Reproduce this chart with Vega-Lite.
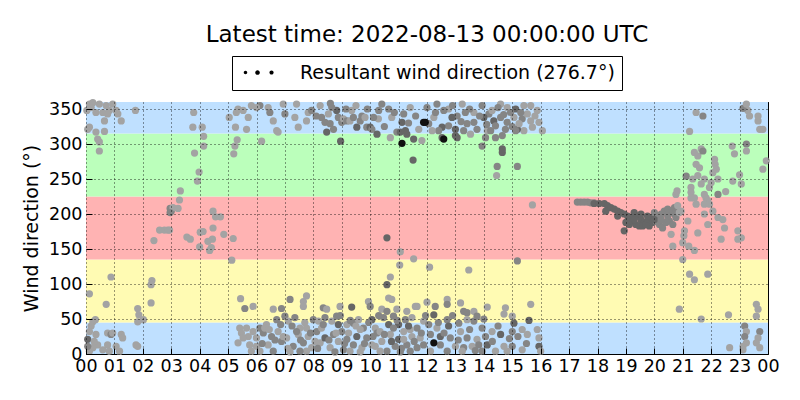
{
  "$schema": "https://vega.github.io/schema/vega-lite/v6.json",
  "description": "Wind direction over the day",
  "autosize": "none",
  "width": 682,
  "height": 252,
  "padding": {"left": 86, "top": 102, "right": 32, "bottom": 46},
  "background": "white",
  "title": {
    "text": "Latest time: 2022-08-13 00:00:00 UTC",
    "font": "DejaVu Sans",
    "fontSize": 23,
    "fontWeight": "normal",
    "color": "black",
    "anchor": "middle",
    "baseline": "alphabetic",
    "offset": -9
  },
  "config": {
    "font": "DejaVu Sans",
    "view": {"stroke": "black", "strokeWidth": 1},
    "axis": {"labelColor": "black", "tickColor": "black", "labelFont": "DejaVu Sans", "titleFont": "DejaVu Sans", "titleColor": "black"}
  },
  "resolve": {"scale": {"color": "independent"}},
  "layer": [
    {
      "data": {
        "values": [
          {"zone": "N", "lo": 0, "hi": 45},
          {"zone": "E", "lo": 45, "hi": 135},
          {"zone": "S", "lo": 135, "hi": 225},
          {"zone": "W", "lo": 225, "hi": 315},
          {"zone": "N2", "lo": 315, "hi": 360}
        ]
      },
      "mark": {"type": "rect"},
      "encoding": {
        "x": {"datum": 0, "type": "quantitative", "scale": {"domain": [0, 24], "nice": false, "zero": false},
          "axis": {"orient": "top", "values": [0,1,2,3,4,5,6,7,8,9,10,11,12,13,14,15,16,17,18,19,20,21,22,23,24], "labels": false, "grid": false, "domain": false, "tickSize": -6, "title": null}},
        "x2": {"datum": 24},
        "y": {"field": "lo", "type": "quantitative", "scale": {"domain": [0, 360], "nice": false},
          "axis": {"orient": "right", "values": [0,50,100,150,200,250,300,350], "labels": false, "grid": false, "domain": false, "tickSize": -6, "title": null}},
        "y2": {"field": "hi"},
        "color": {"field": "zone", "type": "nominal", "legend": null,
          "scale": {"domain": ["N", "E", "S", "W", "N2"], "range": ["#bfe0ff", "#fffbb3", "#ffb3b3", "#bbffbb", "#bfe0ff"]}}
      }
    },
    {
      "data": {
        "values": [
          {"t":0.12,"d":357,"w":1},{"t":0.24,"d":359,"w":1},{"t":0.47,"d":357,"w":1},{"t":0.71,"d":355,"w":1},{"t":0.94,"d":357,"w":1},
          {"t":0.35,"d":345,"w":1},{"t":0.59,"d":345,"w":1},{"t":0.82,"d":348,"w":1},{"t":1.06,"d":348,"w":1},{"t":1.12,"d":343,"w":1},
          {"t":0.76,"d":343,"w":1},{"t":0.65,"d":333,"w":1},{"t":1.24,"d":333,"w":1},{"t":1.74,"d":348,"w":1},{"t":0.12,"d":324,"w":1},
          {"t":0.06,"d":321,"w":1},{"t":0.35,"d":317,"w":1},{"t":0.65,"d":318,"w":1},{"t":0.41,"d":307,"w":1},{"t":0.47,"d":303,"w":1},
          {"t":0.47,"d":290,"w":1},{"t":0.03,"d":348,"w":1},{"t":0.18,"d":352,"w":1},
          {"t":3.79,"d":345,"w":1},{"t":3.76,"d":324,"w":1},{"t":4.09,"d":324,"w":1},{"t":4.14,"d":311,"w":1},{"t":4.14,"d":297,"w":1},
          {"t":3.82,"d":287,"w":1},{"t":3.98,"d":260,"w":1},{"t":3.92,"d":247,"w":1},{"t":3.32,"d":233,"w":1},{"t":3.29,"d":220,"w":1},
          {"t":2.96,"d":208,"w":2},{"t":3.0,"d":204,"w":2},{"t":3.06,"d":209,"w":1},{"t":3.24,"d":208,"w":1},{"t":2.96,"d":202,"w":2},
          {"t":2.59,"d":177,"w":1},{"t":2.76,"d":177,"w":1},{"t":2.88,"d":177,"w":1},{"t":2.94,"d":177,"w":1},{"t":2.39,"d":162,"w":1},
          {"t":4.47,"d":204,"w":1},{"t":4.56,"d":196,"w":1},{"t":4.73,"d":196,"w":1},{"t":4.47,"d":180,"w":1},{"t":4.02,"d":174,"w":1},
          {"t":4.12,"d":175,"w":1},{"t":3.55,"d":167,"w":1},{"t":3.67,"d":164,"w":1},{"t":4.45,"d":164,"w":1},{"t":4.29,"d":161,"w":1},
          {"t":4.35,"d":148,"w":1},{"t":4.41,"d":152,"w":1},{"t":4.0,"d":153,"w":1},{"t":4.85,"d":171,"w":1},{"t":5.18,"d":165,"w":1},
          {"t":5.13,"d":134,"w":1},
          {"t":0.88,"d":110,"w":1},{"t":0.12,"d":86,"w":1},{"t":0.71,"d":71,"w":1},{"t":2.32,"d":105,"w":1},{"t":2.29,"d":99,"w":1},
          {"t":2.29,"d":73,"w":1},{"t":1.82,"d":65,"w":1},{"t":1.86,"d":56,"w":1},{"t":2.02,"d":49,"w":1},{"t":1.82,"d":46,"w":1},
          {"t":0.33,"d":49,"w":1},{"t":0.24,"d":46,"w":1},{"t":0.18,"d":40,"w":1},
          {"t":5.44,"d":79,"w":1},{"t":5.59,"d":65,"w":2},{"t":5.88,"d":68,"w":1},
          {"t":0.12,"d":32,"w":1},{"t":0.06,"d":21,"w":3},{"t":0.35,"d":28,"w":1},{"t":0.41,"d":13,"w":1},{"t":0.24,"d":9,"w":1},
          {"t":0.76,"d":30,"w":1},{"t":0.88,"d":28,"w":2},{"t":1.24,"d":28,"w":1},{"t":1.29,"d":23,"w":1},{"t":1.06,"d":11,"w":1},
          {"t":0.76,"d":13,"w":1},{"t":0.59,"d":6,"w":1},{"t":1.18,"d":4,"w":1},{"t":0.82,"d":4,"w":1},{"t":1.76,"d":13,"w":1},
          {"t":1.82,"d":11,"w":1},{"t":0.12,"d":4,"w":1},{"t":0.06,"d":11,"w":2},{"t":0.94,"d":30,"w":1},{"t":0.29,"d":18,"w":1},
          {"t":5.41,"d":37,"w":1},{"t":5.65,"d":37,"w":1},{"t":5.47,"d":30,"w":1},{"t":5.71,"d":25,"w":1},{"t":5.88,"d":32,"w":1},
          {"t":5.76,"d":13,"w":1},{"t":5.35,"d":16,"w":1},{"t":5.82,"d":4,"w":1},{"t":5.53,"d":23,"w":1},
          {"t":5.04,"d":338,"w":1},{"t":5.29,"d":345,"w":1},{"t":5.35,"d":350,"w":1},{"t":5.71,"d":338,"w":1},{"t":5.53,"d":348,"w":1},
          {"t":5.82,"d":355,"w":1},{"t":5.26,"d":324,"w":1},{"t":5.65,"d":321,"w":1},{"t":5.32,"d":306,"w":1},{"t":5.24,"d":297,"w":1},
          {"t":5.2,"d":286,"w":1},
          {"t":6.12,"d":355,"w":2},{"t":6.41,"d":352,"w":1},{"t":6.47,"d":345,"w":2},{"t":6.59,"d":333,"w":1},{"t":6.71,"d":319,"w":1},
          {"t":6.76,"d":317,"w":1},{"t":6.94,"d":357,"w":1},{"t":7.0,"d":343,"w":2},{"t":7.35,"d":338,"w":1},{"t":7.47,"d":324,"w":1},
          {"t":7.76,"d":333,"w":1},{"t":7.82,"d":345,"w":1},{"t":7.94,"d":348,"w":2},{"t":8.24,"d":355,"w":1},{"t":8.29,"d":338,"w":2},
          {"t":8.41,"d":331,"w":2},{"t":8.53,"d":343,"w":1},{"t":8.59,"d":329,"w":2},{"t":8.47,"d":317,"w":3},{"t":8.71,"d":321,"w":2},
          {"t":8.82,"d":348,"w":3},{"t":8.88,"d":338,"w":2},{"t":9.0,"d":331,"w":2},{"t":9.06,"d":336,"w":1},{"t":9.18,"d":333,"w":2},
          {"t":9.29,"d":333,"w":1},{"t":9.41,"d":338,"w":2},{"t":9.53,"d":324,"w":3},{"t":9.65,"d":333,"w":2},{"t":9.71,"d":340,"w":2},
          {"t":9.82,"d":338,"w":1},{"t":9.88,"d":324,"w":2},{"t":10.0,"d":324,"w":3},{"t":10.06,"d":321,"w":2},{"t":10.24,"d":314,"w":3},
          {"t":10.29,"d":336,"w":1},{"t":10.41,"d":357,"w":2},{"t":10.65,"d":350,"w":2},{"t":10.71,"d":309,"w":1},{"t":10.94,"d":317,"w":2},
          {"t":11.06,"d":317,"w":3},{"t":11.12,"d":331,"w":3},{"t":11.18,"d":343,"w":2},{"t":11.24,"d":319,"w":3},{"t":11.29,"d":314,"w":3},
          {"t":11.41,"d":352,"w":1},{"t":11.53,"d":307,"w":3},{"t":11.71,"d":321,"w":1},{"t":11.82,"d":305,"w":1},{"t":6.18,"d":304,"w":1},
          {"t":8.96,"d":304,"w":3},{"t":11.12,"d":301,"w":4},{"t":11.51,"d":277,"w":3},{"t":11.88,"d":331,"w":4},
          {"t":6.0,"d":352,"w":1},{"t":7.41,"d":357,"w":1},{"t":8.65,"d":352,"w":2},{"t":9.35,"d":348,"w":1},{"t":10.12,"d":338,"w":2},
          {"t":10.76,"d":338,"w":1},
          {"t":8.1,"d":340,"w":2},{"t":8.6,"d":358,"w":2},{"t":9.15,"d":350,"w":2},{"t":9.5,"d":355,"w":1},{"t":9.9,"d":350,"w":2},
          {"t":10.3,"d":348,"w":2},{"t":10.5,"d":325,"w":2},{"t":10.85,"d":345,"w":2},{"t":11.35,"d":330,"w":2},{"t":11.6,"d":340,"w":2},
          {"t":10.59,"d":166,"w":3},{"t":11.06,"d":146,"w":1},{"t":11.53,"d":136,"w":1},{"t":11.04,"d":127,"w":1},{"t":10.71,"d":110,"w":1},
          {"t":10.59,"d":99,"w":3},{"t":10.65,"d":80,"w":1},{"t":10.76,"d":78,"w":1},{"t":7.76,"d":83,"w":1},{"t":7.65,"d":75,"w":1},
          {"t":11.59,"d":68,"w":1},
          {"t":6.59,"d":64,"w":1},{"t":6.88,"d":65,"w":2},{"t":7.18,"d":78,"w":2},{"t":7.65,"d":68,"w":1},{"t":8.35,"d":66,"w":2},
          {"t":8.47,"d":64,"w":1},{"t":8.94,"d":68,"w":1},{"t":9.35,"d":67,"w":3},{"t":9.94,"d":75,"w":1},{"t":10.0,"d":68,"w":2},
          {"t":10.41,"d":64,"w":1},{"t":10.59,"d":61,"w":2},{"t":10.94,"d":64,"w":1},{"t":11.29,"d":61,"w":1},{"t":11.65,"d":68,"w":1},
          {"t":6.12,"d":37,"w":2},{"t":6.35,"d":42,"w":1},{"t":6.71,"d":49,"w":2},{"t":7.0,"d":54,"w":2},{"t":7.12,"d":47,"w":1},
          {"t":7.35,"d":52,"w":2},{"t":7.53,"d":37,"w":1},{"t":8.0,"d":49,"w":2},{"t":8.18,"d":47,"w":1},{"t":8.41,"d":52,"w":2},
          {"t":8.65,"d":47,"w":1},{"t":8.82,"d":54,"w":2},{"t":8.88,"d":42,"w":3},{"t":9.18,"d":42,"w":1},{"t":9.41,"d":44,"w":2},
          {"t":9.59,"d":49,"w":1},{"t":9.76,"d":37,"w":2},{"t":10.06,"d":49,"w":3},{"t":10.18,"d":37,"w":1},{"t":10.47,"d":52,"w":2},
          {"t":10.65,"d":42,"w":3},{"t":10.82,"d":54,"w":2},{"t":11.0,"d":42,"w":3},{"t":11.24,"d":49,"w":2},{"t":11.47,"d":52,"w":1},
          {"t":11.65,"d":37,"w":2},{"t":11.88,"d":47,"w":1},
          {"t":6.0,"d":23,"w":1},{"t":6.24,"d":30,"w":2},{"t":6.41,"d":13,"w":1},{"t":6.53,"d":25,"w":2},{"t":6.76,"d":32,"w":1},
          {"t":6.88,"d":18,"w":2},{"t":7.06,"d":23,"w":1},{"t":7.29,"d":11,"w":2},{"t":7.47,"d":28,"w":1},{"t":7.65,"d":16,"w":2},
          {"t":7.82,"d":25,"w":1},{"t":7.94,"d":9,"w":1},{"t":8.12,"d":32,"w":2},{"t":8.24,"d":16,"w":1},{"t":8.41,"d":23,"w":3},
          {"t":8.59,"d":9,"w":1},{"t":8.71,"d":28,"w":2},{"t":8.88,"d":18,"w":1},{"t":9.06,"d":6,"w":2},{"t":9.24,"d":30,"w":1},
          {"t":9.41,"d":13,"w":2},{"t":9.53,"d":25,"w":3},{"t":9.71,"d":9,"w":1},{"t":9.88,"d":23,"w":2},{"t":10.06,"d":13,"w":1},
          {"t":10.24,"d":30,"w":2},{"t":10.41,"d":18,"w":1},{"t":10.59,"d":4,"w":2},{"t":10.71,"d":28,"w":1},{"t":10.88,"d":11,"w":2},
          {"t":11.0,"d":21,"w":3},{"t":11.18,"d":32,"w":1},{"t":11.29,"d":13,"w":2},{"t":11.47,"d":25,"w":1},{"t":11.65,"d":9,"w":2},
          {"t":11.76,"d":23,"w":1},{"t":11.88,"d":13,"w":2},{"t":6.12,"d":4,"w":1},{"t":6.59,"d":4,"w":2},{"t":7.18,"d":3,"w":1},
          {"t":7.76,"d":4,"w":1},{"t":8.76,"d":3,"w":2},{"t":9.65,"d":3,"w":1},{"t":11.06,"d":3,"w":2},
          {"t":6.29,"d":37,"w":1},{"t":7.41,"d":32,"w":2},{"t":7.76,"d":37,"w":1},{"t":8.29,"d":37,"w":1},{"t":9.0,"d":32,"w":2},
          {"t":9.65,"d":35,"w":1},{"t":10.35,"d":32,"w":1},{"t":10.82,"d":37,"w":2},{"t":11.41,"d":35,"w":1},{"t":6.94,"d":25,"w":1},
          {"t":8.06,"d":18,"w":1},{"t":9.18,"d":21,"w":2},{"t":10.18,"d":11,"w":1},{"t":11.18,"d":21,"w":1},{"t":6.0,"d":11,"w":1},
          {"t":7.53,"d":4,"w":2},{"t":9.29,"d":4,"w":1},{"t":10.35,"d":4,"w":1},{"t":11.41,"d":4,"w":2},
          {"t":6.2,"d":15,"w":2},{"t":6.45,"d":35,"w":1},{"t":6.65,"d":20,"w":2},{"t":6.85,"d":42,"w":2},{"t":7.1,"d":8,"w":1},
          {"t":7.25,"d":40,"w":2},{"t":7.55,"d":20,"w":2},{"t":7.7,"d":45,"w":1},{"t":7.9,"d":30,"w":2},{"t":8.15,"d":8,"w":2},
          {"t":8.35,"d":42,"w":2},{"t":8.55,"d":20,"w":2},{"t":8.8,"d":30,"w":1},{"t":8.95,"d":55,"w":2},{"t":9.1,"d":15,"w":2},
          {"t":9.3,"d":48,"w":2},{"t":9.5,"d":40,"w":1},{"t":9.8,"d":15,"w":2},{"t":9.95,"d":45,"w":2},{"t":10.1,"d":25,"w":2},
          {"t":10.3,"d":55,"w":2},{"t":10.5,"d":28,"w":2},{"t":10.75,"d":18,"w":3},{"t":10.95,"d":48,"w":2},{"t":11.1,"d":8,"w":2},
          {"t":11.35,"d":40,"w":3},{"t":11.55,"d":18,"w":2},{"t":11.8,"d":30,"w":2},{"t":11.95,"d":55,"w":2},
          {"t":12.0,"d":352,"w":2},{"t":12.35,"d":357,"w":2},{"t":12.76,"d":350,"w":1},{"t":13.06,"d":340,"w":2},{"t":13.24,"d":357,"w":1},
          {"t":13.35,"d":345,"w":2},{"t":13.65,"d":345,"w":1},{"t":13.94,"d":355,"w":2},{"t":14.18,"d":343,"w":2},{"t":14.29,"d":348,"w":1},
          {"t":14.59,"d":357,"w":1},{"t":14.82,"d":352,"w":1},{"t":15.12,"d":350,"w":3},{"t":15.41,"d":355,"w":1},{"t":15.65,"d":355,"w":1},
          {"t":15.88,"d":348,"w":1},{"t":14.59,"d":338,"w":2},{"t":14.35,"d":333,"w":3},{"t":14.82,"d":331,"w":2},{"t":15.06,"d":338,"w":1},
          {"t":15.35,"d":336,"w":2},{"t":15.65,"d":333,"w":1},{"t":15.94,"d":331,"w":1},{"t":16.06,"d":319,"w":1},{"t":15.41,"d":319,"w":1},
          {"t":15.18,"d":321,"w":3},{"t":14.76,"d":321,"w":2},{"t":14.41,"d":326,"w":2},{"t":14.12,"d":319,"w":1},{"t":13.76,"d":321,"w":2},
          {"t":13.53,"d":314,"w":1},{"t":13.29,"d":319,"w":2},{"t":13.0,"d":321,"w":3},{"t":12.76,"d":326,"w":2},{"t":12.53,"d":324,"w":3},
          {"t":12.41,"d":319,"w":2},{"t":12.18,"d":319,"w":1},{"t":12.06,"d":329,"w":2},{"t":11.94,"d":331,"w":4},{"t":12.53,"d":309,"w":3},
          {"t":12.59,"d":307,"w":4},{"t":13.0,"d":312,"w":3},{"t":13.06,"d":309,"w":3},{"t":14.06,"d":309,"w":2},{"t":14.41,"d":309,"w":2},
          {"t":14.65,"d":312,"w":2},{"t":15.12,"d":319,"w":2},{"t":15.71,"d":324,"w":1},{"t":13.94,"d":297,"w":2},{"t":14.65,"d":293,"w":3},
          {"t":14.65,"d":288,"w":3},{"t":14.47,"d":268,"w":2},{"t":14.45,"d":255,"w":1},{"t":15.18,"d":268,"w":2},{"t":15.71,"d":213,"w":1},
          {"t":15.18,"d":133,"w":2},{"t":12.09,"d":124,"w":1},{"t":13.47,"d":120,"w":1},
          {"t":12.59,"d":348,"w":2},{"t":12.88,"d":338,"w":3},{"t":13.65,"d":331,"w":2},{"t":14.0,"d":338,"w":3},{"t":14.94,"d":345,"w":2},
          {"t":15.53,"d":343,"w":1},{"t":14.24,"d":319,"w":2},{"t":12.24,"d":338,"w":1},{"t":13.41,"d":329,"w":2},{"t":15.24,"d":329,"w":1},
          {"t":12.3,"d":345,"w":2},{"t":12.9,"d":355,"w":2},{"t":13.2,"d":332,"w":2},{"t":13.5,"d":350,"w":2},{"t":13.85,"d":340,"w":2},
          {"t":14.1,"d":328,"w":2},{"t":14.5,"d":352,"w":2},{"t":14.7,"d":342,"w":2},{"t":15.0,"d":325,"w":2},{"t":15.3,"d":345,"w":2},
          {"t":15.8,"d":340,"w":1},
          {"t":12.0,"d":74,"w":1},{"t":12.29,"d":68,"w":2},{"t":12.24,"d":56,"w":3},{"t":12.71,"d":78,"w":1},{"t":12.71,"d":71,"w":2},
          {"t":13.18,"d":73,"w":1},{"t":13.29,"d":61,"w":2},{"t":13.41,"d":59,"w":2},{"t":13.65,"d":61,"w":1},{"t":13.76,"d":54,"w":2},
          {"t":14.12,"d":67,"w":1},{"t":14.76,"d":66,"w":1},{"t":14.71,"d":57,"w":1},{"t":15.0,"d":54,"w":1},{"t":15.65,"d":71,"w":1},
          {"t":15.59,"d":48,"w":3},{"t":15.06,"d":44,"w":3},{"t":12.06,"d":42,"w":2},{"t":12.35,"d":37,"w":1},{"t":12.71,"d":49,"w":2},
          {"t":12.76,"d":40,"w":3},{"t":13.12,"d":44,"w":2},{"t":13.41,"d":49,"w":1},{"t":13.65,"d":47,"w":2},{"t":13.94,"d":37,"w":2},
          {"t":14.29,"d":32,"w":1},{"t":14.59,"d":28,"w":3},{"t":15.0,"d":32,"w":2},{"t":15.35,"d":35,"w":1},{"t":15.53,"d":28,"w":1},
          {"t":15.88,"d":35,"w":1},{"t":12.12,"d":28,"w":2},{"t":12.47,"d":25,"w":3},{"t":12.82,"d":23,"w":2},{"t":13.18,"d":32,"w":1},
          {"t":13.41,"d":23,"w":2},{"t":13.76,"d":21,"w":1},{"t":14.06,"d":25,"w":2},{"t":12.47,"d":13,"w":2},{"t":13.0,"d":11,"w":1},
          {"t":13.29,"d":9,"w":2},{"t":13.59,"d":11,"w":1},{"t":13.82,"d":13,"w":2},{"t":14.12,"d":13,"w":3},{"t":14.71,"d":11,"w":1},
          {"t":15.0,"d":11,"w":2},{"t":15.35,"d":6,"w":1},{"t":15.94,"d":11,"w":3},{"t":15.94,"d":23,"w":1},{"t":12.12,"d":4,"w":1},
          {"t":12.71,"d":4,"w":2},{"t":13.24,"d":4,"w":1},{"t":13.94,"d":4,"w":2},{"t":14.41,"d":4,"w":1},{"t":14.82,"d":4,"w":1},
          {"t":16.0,"d":4,"w":1},{"t":12.24,"d":16,"w":4},
          {"t":12.4,"d":45,"w":2},{"t":12.6,"d":30,"w":2},{"t":12.9,"d":55,"w":2},{"t":13.1,"d":20,"w":2},{"t":13.5,"d":35,"w":2},
          {"t":13.7,"d":5,"w":2},{"t":14.0,"d":50,"w":2},{"t":14.3,"d":18,"w":2},{"t":14.5,"d":40,"w":2},{"t":14.9,"d":22,"w":2},
          {"t":15.2,"d":25,"w":2},{"t":15.5,"d":15,"w":2},
          {"t":17.29,"d":217,"w":2},{"t":17.41,"d":217,"w":2},{"t":17.53,"d":217,"w":2},{"t":17.65,"d":217,"w":2},{"t":17.76,"d":216,"w":2},
          {"t":17.88,"d":216,"w":2},
          {"t":17.88,"d":215,"w":3},{"t":18.06,"d":215,"w":3},{"t":18.24,"d":215,"w":3},{"t":18.35,"d":212,"w":3},{"t":18.47,"d":209,"w":3},
          {"t":18.59,"d":207,"w":3},{"t":18.71,"d":204,"w":3},{"t":18.82,"d":202,"w":3},{"t":18.94,"d":200,"w":3},{"t":19.06,"d":197,"w":3},
          {"t":19.18,"d":195,"w":3},{"t":19.29,"d":202,"w":3},{"t":19.41,"d":197,"w":3},{"t":19.53,"d":192,"w":3},{"t":19.65,"d":188,"w":3},
          {"t":19.76,"d":190,"w":3},{"t":19.88,"d":195,"w":3},{"t":20.0,"d":202,"w":2},{"t":20.12,"d":197,"w":2},{"t":20.24,"d":200,"w":2},
          {"t":20.35,"d":204,"w":2},{"t":20.47,"d":207,"w":2},{"t":20.59,"d":202,"w":2},{"t":20.71,"d":209,"w":2},{"t":20.82,"d":212,"w":1},
          {"t":20.94,"d":204,"w":1},{"t":19.0,"d":188,"w":3},{"t":19.12,"d":185,"w":3},{"t":19.24,"d":190,"w":3},{"t":19.35,"d":185,"w":3},
          {"t":19.47,"d":183,"w":3},{"t":19.59,"d":183,"w":3},{"t":19.71,"d":185,"w":3},{"t":19.82,"d":183,"w":3},{"t":19.94,"d":188,"w":3},
          {"t":20.06,"d":190,"w":2},{"t":20.18,"d":185,"w":2},{"t":20.29,"d":180,"w":2},{"t":20.41,"d":188,"w":2},{"t":20.53,"d":190,"w":2},
          {"t":20.65,"d":185,"w":2},{"t":20.76,"d":195,"w":2},{"t":18.94,"d":176,"w":3},{"t":19.06,"d":189,"w":3},{"t":19.29,"d":192,"w":3},
          {"t":19.53,"d":200,"w":3},{"t":19.76,"d":197,"w":3},{"t":20.0,"d":192,"w":3},{"t":20.24,"d":192,"w":2},{"t":20.47,"d":197,"w":2},
          {"t":20.71,"d":200,"w":2},{"t":20.88,"d":202,"w":1},{"t":18.29,"d":204,"w":3},{"t":18.71,"d":197,"w":3},
          {"t":20.59,"d":171,"w":1},{"t":20.65,"d":154,"w":1},{"t":20.76,"d":228,"w":1},{"t":20.8,"d":233,"w":1},{"t":21.06,"d":176,"w":1},
          {"t":21.04,"d":169,"w":1},{"t":21.0,"d":159,"w":1},{"t":21.21,"d":154,"w":1},{"t":21.41,"d":148,"w":1},{"t":21.0,"d":135,"w":1},
          {"t":21.18,"d":190,"w":1},{"t":21.53,"d":173,"w":1},{"t":21.24,"d":114,"w":1},{"t":21.41,"d":106,"w":1},{"t":21.88,"d":114,"w":1},
          {"t":20.88,"d":64,"w":1},{"t":21.65,"d":50,"w":1},{"t":22.61,"d":56,"w":1},{"t":21.88,"d":185,"w":1},{"t":21.76,"d":200,"w":1},
          {"t":21.94,"d":214,"w":1},{"t":21.82,"d":223,"w":1},{"t":21.76,"d":228,"w":1},{"t":21.94,"d":238,"w":1},{"t":21.88,"d":219,"w":1},
          {"t":22.0,"d":245,"w":1},{"t":21.76,"d":250,"w":1},{"t":21.65,"d":243,"w":1},{"t":21.53,"d":255,"w":1},{"t":21.59,"d":266,"w":1},
          {"t":21.47,"d":271,"w":1},{"t":21.53,"d":283,"w":1},{"t":21.41,"d":288,"w":1},{"t":21.65,"d":293,"w":1},{"t":21.71,"d":290,"w":2},
          {"t":21.12,"d":254,"w":2},{"t":21.35,"d":250,"w":1},{"t":21.29,"d":238,"w":1},{"t":21.29,"d":231,"w":1},{"t":21.41,"d":223,"w":1},
          {"t":21.29,"d":223,"w":1},{"t":21.47,"d":214,"w":1},{"t":21.76,"d":214,"w":1},{"t":22.06,"d":204,"w":1},{"t":22.24,"d":195,"w":1},
          {"t":22.41,"d":192,"w":1},{"t":22.47,"d":180,"w":1},{"t":22.35,"d":164,"w":1},{"t":22.94,"d":176,"w":1},{"t":22.94,"d":164,"w":1},
          {"t":23.06,"d":166,"w":1},{"t":22.12,"d":278,"w":1},{"t":22.14,"d":271,"w":1},{"t":22.18,"d":264,"w":1},{"t":22.06,"d":259,"w":1},
          {"t":22.24,"d":250,"w":1},{"t":22.24,"d":228,"w":2},{"t":22.51,"d":232,"w":1},{"t":22.76,"d":247,"w":1},{"t":23.0,"d":256,"w":1},
          {"t":23.06,"d":243,"w":1},{"t":22.74,"d":297,"w":1},{"t":22.82,"d":286,"w":1},{"t":23.24,"d":300,"w":2},{"t":23.24,"d":290,"w":1},
          {"t":23.94,"d":276,"w":1},{"t":23.82,"d":264,"w":1},{"t":23.71,"d":321,"w":1},{"t":23.65,"d":333,"w":1},{"t":23.65,"d":340,"w":1},
          {"t":23.29,"d":348,"w":1},{"t":23.35,"d":340,"w":1},{"t":23.12,"d":351,"w":2},{"t":23.24,"d":357,"w":1},{"t":23.82,"d":321,"w":1},
          {"t":21.24,"d":318,"w":1},{"t":21.47,"d":345,"w":1},{"t":21.71,"d":340,"w":2},
          {"t":23.18,"d":40,"w":2},{"t":23.24,"d":32,"w":1},{"t":23.18,"d":25,"w":2},{"t":23.24,"d":16,"w":1},{"t":23.12,"d":11,"w":1},
          {"t":23.71,"d":32,"w":2},{"t":23.65,"d":23,"w":1},{"t":23.59,"d":16,"w":1},{"t":23.71,"d":9,"w":1},{"t":22.65,"d":9,"w":1},
          {"t":23.59,"d":71,"w":1},{"t":23.65,"d":64,"w":1},{"t":23.59,"d":54,"w":1},{"t":23.12,"d":6,"w":1}
        ]
      },
      "mark": {"type": "point", "filled": true, "size": 52, "opacity": 1, "strokeWidth": 0},
      "encoding": {
        "x": {"field": "t", "type": "quantitative", "scale": {"domain": [0, 24], "nice": false, "zero": false},
          "axis": {"orient": "bottom", "values": [0,1,2,3,4,5,6,7,8,9,10,11,12,13,14,15,16,17,18,19,20,21,22,23,24],
            "labelExpr": "datum.value == 24 ? '00' : (datum.value < 10 ? '0' + datum.value : '' + datum.value)",
            "labelFontSize": 17.5, "labelPadding": 9, "labelFlush": false, "tickSize": -6, "domain": false,
            "grid": true, "gridColor": "black", "gridDash": [1, 3], "gridWidth": 0.8, "gridOpacity": 1, "zindex": 1, "title": null}},
        "y": {"field": "d", "type": "quantitative", "scale": {"domain": [0, 360], "nice": false},
          "axis": {"orient": "left", "values": [0,50,100,150,200,250,300,350], "labelFontSize": 17.5, "labelPadding": 10,
            "labelFlush": false, "tickSize": -6, "domain": false,
            "grid": true, "gridColor": "black", "gridDash": [1, 3], "gridWidth": 0.8, "gridOpacity": 1, "zindex": 1,
            "title": "Wind direction (°)", "titleFontSize": 19, "titleFontWeight": "normal", "titlePadding": 7}},
        "color": {"field": "w", "type": "ordinal", "legend": null,
          "scale": {"domain": [1, 2, 3, 4], "range": ["#a3a3a3", "#858585", "#666666", "#111111"]}}
      }
    },
    {
      "data": {
        "values": [
          {"label": "Resultant wind direction (276.7°)", "t": null, "d": null}
        ]
      },
      "mark": {"type": "point", "filled": true, "color": "black", "opacity": 1},
      "encoding": {
        "x": {"field": "t", "type": "quantitative", "axis": null},
        "y": {"field": "d", "type": "quantitative", "axis": null},
        "shape": {"field": "label", "type": "nominal",
          "scale": {"domain": ["Resultant wind direction (276.7°)"],
            "range": ["M-0.68,0a0.25,0.25 0 1,0 0.5,0a0.25,0.25 0 1,0 -0.5,0M0.96,0a0.33,0.33 0 1,0 0.66,0a0.33,0.33 0 1,0 -0.66,0M2.99,0a0.3,0.3 0 1,0 0.6,0a0.3,0.3 0 1,0 -0.6,0"]},
          "legend": {"title": null, "orient": "none", "legendX": 146, "legendY": -46, "strokeColor": "black", "padding": 7,
            "labelFontSize": 19, "labelFont": "DejaVu Sans", "labelColor": "black", "labelOffset": 42, "labelLimit": 0,
            "symbolSize": 196, "symbolFillColor": "black", "symbolStrokeWidth": 0, "cornerRadius": 0, "fillColor": "white"}}
      }
    }
  ]
}
